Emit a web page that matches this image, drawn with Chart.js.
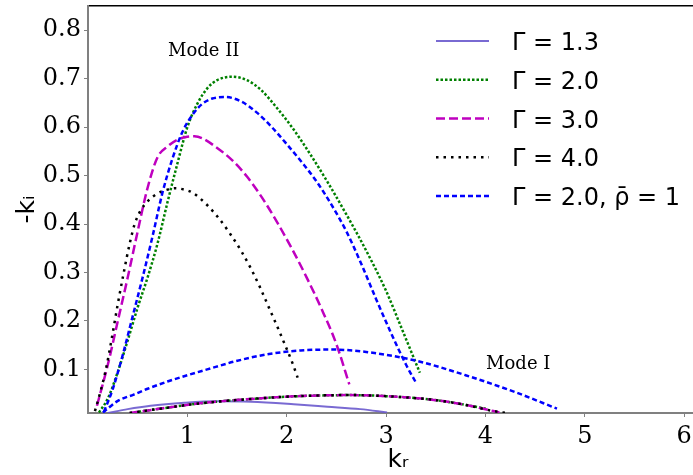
<!DOCTYPE html>
<html lang="en">
<head>
<meta charset="UTF-8">
<title>Growth rate vs k_r</title>
<script src="https://cdn.jsdelivr.net/npm/chart.js"></script>
<style>
  html, body { margin: 0; padding: 0; background: #fff; overflow: hidden; }
  #wrap { width: 708px; height: 475px; }
</style>
</head>
<body>
<div id="wrap"><canvas id="growthChart" width="708" height="475"></canvas></div>
<script>
  // tick values
  const xTicks = [1, 2, 3, 4, 5, 6];
  const yTicks = [0.1, 0.2, 0.3, 0.4, 0.5, 0.6, 0.7, 0.8];

  // Gamma = 1.3 (only mode I)
  const g13X = [0.20, 0.40, 0.63, 0.97, 1.30, 1.64, 2.07, 2.41, 2.74, 3.01];
  const g13Y = [0.010, 0.018, 0.025, 0.031, 0.034, 0.033, 0.028, 0.023, 0.018, 0.011];

  // Gamma = 2.0, mode II
  const g2X = [0.11, 0.20, 0.30, 0.40, 0.50, 0.60, 0.70, 0.80, 0.90, 1.00, 1.10, 1.20, 1.30, 1.45, 1.60, 1.74, 1.90, 2.07, 2.24, 2.41, 2.60, 2.80, 3.00, 3.17, 3.34];
  const g2Y = [0.011, 0.040, 0.095, 0.160, 0.228, 0.290, 0.360, 0.445, 0.525, 0.600, 0.648, 0.680, 0.697, 0.704, 0.697, 0.677, 0.640, 0.595, 0.543, 0.487, 0.420, 0.345, 0.262, 0.178, 0.093];

  // Gamma = 3.0, mode II
  const g3X = [0.09, 0.20, 0.30, 0.40, 0.50, 0.60, 0.70, 0.80, 0.90, 1.00, 1.07, 1.15, 1.30, 1.45, 1.60, 1.75, 1.90, 2.05, 2.20, 2.35, 2.50, 2.63];
  const g3Y = [0.025, 0.110, 0.200, 0.290, 0.385, 0.475, 0.538, 0.560, 0.574, 0.580, 0.581, 0.577, 0.557, 0.532, 0.498, 0.455, 0.405, 0.350, 0.290, 0.225, 0.152, 0.069];

  // Gamma = 4.0, mode II
  const g4X = [0.07, 0.12, 0.18, 0.24, 0.30, 0.36, 0.42, 0.47, 0.53, 0.61, 0.70, 0.80, 0.88, 0.97, 1.05, 1.18, 1.32, 1.43, 1.54, 1.64, 1.73, 1.82, 1.91, 1.99, 2.06, 2.11];
  const g4Y = [0.014, 0.050, 0.100, 0.165, 0.235, 0.300, 0.360, 0.400, 0.428, 0.449, 0.463, 0.471, 0.474, 0.471, 0.465, 0.443, 0.411, 0.380, 0.345, 0.308, 0.270, 0.228, 0.186, 0.147, 0.112, 0.083];

  // Gamma = 2.0, rho = 1, mode II
  const rhoX = [0.16, 0.25, 0.35, 0.45, 0.55, 0.65, 0.75, 0.85, 0.95, 1.05, 1.15, 1.25, 1.39, 1.55, 1.70, 1.85, 2.00, 2.15, 2.30, 2.45, 2.60, 2.75, 2.90, 3.05, 3.20, 3.30];
  const rhoY = [0.012, 0.060, 0.130, 0.210, 0.290, 0.375, 0.465, 0.535, 0.590, 0.625, 0.648, 0.659, 0.662, 0.652, 0.630, 0.600, 0.565, 0.528, 0.488, 0.440, 0.385, 0.318, 0.245, 0.175, 0.110, 0.073];

  // mode I branches
  const g2IX = [0.42, 0.80, 1.13, 1.64, 2.14, 2.64, 2.98, 3.48, 3.82, 4.02];
  const g2IY = [0.010, 0.021, 0.030, 0.039, 0.045, 0.047, 0.045, 0.037, 0.026, 0.018];
  const g3IX = [0.42, 0.80, 1.13, 1.64, 2.14, 2.64, 2.98, 3.48, 3.82, 4.08, 4.14];
  const g3IY = [0.010, 0.021, 0.030, 0.039, 0.045, 0.047, 0.045, 0.037, 0.026, 0.014, 0.011];
  const g4IX = [0.42, 0.80, 1.13, 1.64, 2.14, 2.64, 2.98, 3.48, 3.82, 4.08, 4.22];
  const g4IY = [0.010, 0.021, 0.030, 0.039, 0.045, 0.047, 0.045, 0.037, 0.026, 0.014, 0.010];
  const rhoIX = [0.15, 0.30, 0.46, 0.60, 0.80, 1.00, 1.20, 1.47, 1.80, 2.14, 2.45, 2.80, 3.30, 3.80, 4.30, 4.72];
  const rhoIY = [0.011, 0.035, 0.048, 0.060, 0.075, 0.088, 0.100, 0.116, 0.131, 0.139, 0.141, 0.136, 0.118, 0.088, 0.053, 0.019];

  // text labels in the plot
  const modeText = ['Mode II', 'Mode I'];
  const modeX = [1.164, 4.33];
  const modeY = [0.747, 0.100];

  function pts(xs, ys) {
    return xs.map((x, i) => ({ x: x, y: ys[i] }));
  }

  const purple = 'rgba(106, 90, 205, 0.9)';
  const green = '#008000';
  const magenta = '#bf00bf';
  const black = '#000000';
  const blue = '#0000ff';

  function line(label, xs, ys, color, dash, width, inLegend) {
    return {
      label: label,
      data: pts(xs, ys),
      borderColor: color,
      borderDash: dash,
      borderWidth: width,
      borderCapStyle: 'butt',
      pointRadius: 0,
      fill: false,
      cubicInterpolationMode: 'monotone',
      inLegend: inLegend
    };
  }

  const datasets = [
    line('Γ = 1.3', g13X, g13Y, purple, [], 2, true),
    line('Γ = 2.0', g2X, g2Y, green, [2.5, 2], 2.5, true),
    line('Γ = 2.0 I', g2IX, g2IY, green, [2.5, 2], 2.5, false),
    line('Γ = 3.0', g3X, g3Y, magenta, [9, 4], 2.5, true),
    line('Γ = 3.0 I', g3IX, g3IY, magenta, [9, 4], 2.5, false),
    line('Γ = 4.0', g4X, g4Y, black, [2.5, 5], 2.5, true),
    line('Γ = 4.0 I', g4IX, g4IY, black, [2.5, 5], 2.5, false),
    line('Γ = 2.0, ρ̄ = 1', rhoX, rhoY, blue, [5, 3], 2.5, true),
    line('rho I', rhoIX, rhoIY, blue, [5, 3], 2.5, false)
  ];
  // later datasets on top, like matplotlib
  datasets.forEach((d, i) => { d.order = datasets.length - i; });

  // legend drawn inside the axes, top right
  const insideLegend = {
    id: 'insideLegend',
    afterDatasetsDraw(chart) {
      const ctx = chart.ctx;
      const area = chart.chartArea;
      const items = chart.data.datasets.filter(d => d.inLegend);
      ctx.save();
      ctx.font = '24px "DejaVu Sans"';
      ctx.fillStyle = '#000';
      ctx.textAlign = 'left';
      ctx.textBaseline = 'alphabetic';
      items.forEach((d, i) => {
        const y = area.top + 35 + i * 38.75;
        ctx.beginPath();
        ctx.strokeStyle = d.borderColor;
        ctx.lineWidth = d.borderWidth;
        ctx.setLineDash(d.borderDash);
        ctx.moveTo(area.right - 272, y);
        ctx.lineTo(area.right - 219, y);
        ctx.stroke();
        ctx.setLineDash([]);
        ctx.fillText(d.label, area.right - 196, y + 9);
      });
      ctx.restore();
    }
  };

  // "Mode I" / "Mode II" notes
  const modeNotes = {
    id: 'modeNotes',
    afterDatasetsDraw(chart) {
      const ctx = chart.ctx;
      const xs = chart.scales.x, ys = chart.scales.y;
      ctx.save();
      ctx.font = '18px "DejaVu Serif"';
      ctx.fillStyle = '#000';
      ctx.textAlign = 'center';
      ctx.textBaseline = 'alphabetic';
      modeText.forEach((t, i) => {
        ctx.fillText(t, xs.getPixelForValue(modeX[i]), ys.getPixelForValue(modeY[i]));
      });
      ctx.restore();
    }
  };

  const tickFont = { family: 'DejaVu Serif', size: 24 };
  const spine = '#808080';

  // keep Chart.js from reserving room for half tick labels
  function noPad(s) {
    s.paddingTop = 0; s.paddingBottom = 0; s.paddingLeft = 0; s.paddingRight = 0;
  }

  new Chart(document.getElementById('growthChart'), {
    type: 'line',
    data: { datasets: datasets },
    plugins: [insideLegend, modeNotes],
    options: {
      responsive: false,
      animation: false,
      layout: { padding: 0 },
      plugins: { legend: { display: false }, tooltip: { enabled: false } },
      scales: {
        x: {
          type: 'linear',
          position: 'bottom',
          min: 0,
          max: 6.24,
          afterBuildTicks: s => { s.ticks = xTicks.map(v => ({ value: v })); },
          afterFit: s => { s.height = 62; noPad(s); },
          ticks: { font: tickFont, color: '#000', padding: 5, callback: v => String(v), maxRotation: 0 },
          grid: { display: true, drawOnChartArea: false, tickLength: 4, color: spine, lineWidth: 1 },
          border: { display: true, color: spine, width: 2 },
          title: { display: true, text: 'kᵣ', font: { family: 'DejaVu Sans', size: 25 }, color: '#000', padding: { top: 0, bottom: 0 } }
        },
        xTop: {
          type: 'linear',
          position: 'top',
          min: 0,
          max: 6.24,
          afterFit: s => { s.height = 6; noPad(s); },
          ticks: { display: false },
          grid: { display: false },
          border: { display: true, color: '#000', width: 1.5 }
        },
        y: {
          type: 'linear',
          position: 'left',
          min: 0.01,
          max: 0.85,
          afterBuildTicks: s => { s.ticks = yTicks.map(v => ({ value: v })); },
          afterFit: s => { s.width = 88; noPad(s); },
          ticks: { font: tickFont, color: '#000', padding: 3, callback: v => v.toFixed(1) },
          grid: { display: true, drawOnChartArea: false, tickLength: 4, color: spine, lineWidth: 1 },
          border: { display: true, color: spine, width: 2 },
          title: { display: true, text: '-kᵢ', font: { family: 'DejaVu Sans', size: 25 }, color: '#000', padding: { top: 12, bottom: 0 } }
        }
      }
    }
  });
</script>
</body>
</html>
